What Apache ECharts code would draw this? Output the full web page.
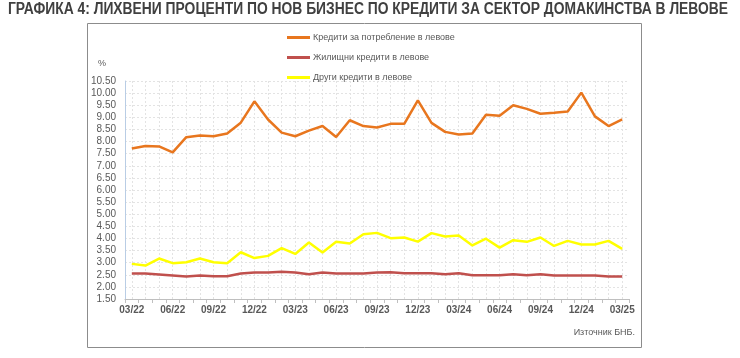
<!DOCTYPE html>
<html><head><meta charset="utf-8">
<script src="https://cdn.jsdelivr.net/npm/echarts@6/dist/echarts.min.js"></script>
<style>html,body{margin:0;padding:0;background:#fff}#c{width:740px;height:358px}</style>
</head><body><div id="c"></div>
<script>
const categories = ['03/22','04/22','05/22','06/22','07/22','08/22','09/22','10/22','11/22','12/22','01/23','02/23','03/23','04/23','05/23','06/23','07/23','08/23','09/23','10/23','11/23','12/23','01/24','02/24','03/24','04/24','05/24','06/24','07/24','08/24','09/24','10/24','11/24','12/24','01/25','02/25','03/25'];
const consumer = [7.71,7.82,7.80,7.55,8.18,8.25,8.22,8.33,8.78,9.66,8.91,8.37,8.22,8.45,8.64,8.19,8.88,8.64,8.58,8.73,8.73,9.70,8.77,8.40,8.29,8.33,9.11,9.07,9.50,9.35,9.15,9.19,9.24,10.02,9.04,8.64,8.92];
const housing = [2.55,2.55,2.51,2.47,2.43,2.47,2.44,2.44,2.55,2.59,2.59,2.62,2.59,2.52,2.59,2.55,2.55,2.55,2.59,2.60,2.56,2.56,2.56,2.52,2.56,2.48,2.48,2.48,2.52,2.48,2.52,2.47,2.47,2.47,2.47,2.43,2.43];
const other = [2.95,2.88,3.17,2.98,3.02,3.17,3.02,2.98,3.43,3.19,3.28,3.60,3.36,3.83,3.42,3.86,3.79,4.17,4.23,4.01,4.04,3.87,4.22,4.08,4.12,3.71,3.99,3.62,3.93,3.86,4.04,3.69,3.90,3.75,3.75,3.90,3.57];
const seriesNames = ['Кредити за потребление в левове','Жилищни кредити в левове','Други кредити в левове'];
const colors = ['#E8761E','#C0504D','#FFFF00'];
const titleText = 'ГРАФИКА 4: ЛИХВЕНИ ПРОЦЕНТИ ПО НОВ БИЗНЕС ПО КРЕДИТИ ЗА СЕКТОР ДОМАКИНСТВА В ЛЕВОВЕ';
const sourceText = 'Източник БНБ.';

const titleFont = 'bold 16px "Liberation Sans", Arial, sans-serif';
const mctx = document.createElement('canvas').getContext('2d');
mctx.font = titleFont;
const titleScale = 720 / mctx.measureText(titleText).width;

const chart = echarts.init(document.getElementById('c'), null, {renderer:'canvas'});
const GL = 125, GR = 111, GT = 81, GB = 59;
const half = (740 - GL - GR) / categories.length / 2;
const font = 'Liberation Sans, Arial, sans-serif';
chart.setOption({
  animation: false,
  color: colors,
  graphic: [
    {type:'text', x: 8, y: 2, scaleX: titleScale, style:{text: titleText, font: titleFont, fill:'#404040'}},
    {type:'rect', shape:{x:87.5, y:23.5, width:554, height:324}, style:{fill:null, stroke:'#8c8c8c', lineWidth:1}, z:-1},
    {type:'text', left: 98, top: 59, style:{text:'%', font:'9px ' + font, fill:'#595959'}},
    {type:'text', right: 105, top: 328, style:{text: sourceText, font:'9px ' + font, fill:'#595959'}}
  ],
  legend: {
    orient:'vertical', left: 282, top: 27, itemGap: 9,
    itemWidth: 23, itemHeight: 3, icon: 'rect',
    textStyle:{fontSize:9, color:'#595959', fontFamily: font, lineHeight: 11, padding:[0,0,0,-2]},
    data: seriesNames
  },
  grid: [
    {left: GL, right: GR, top: GT, bottom: GB},
    {left: GL + half, right: GR + half, top: GT, bottom: GB}
  ],
  xAxis: [
    {type:'category', gridIndex:0, data: categories, boundaryGap:true,
     axisLine:{lineStyle:{color:'#bfbfbf'}},
     axisTick:{show:true, interval:0, length:4, lineStyle:{color:'#bfbfbf'}},
     axisLabel:{interval:2, color:'#595959', fontSize:10, fontWeight:'bold', fontFamily: font, margin:6},
     splitLine:{show:false}},
    {type:'value', gridIndex:1, min:0, max: categories.length - 1, interval:1,
     axisLine:{show:false}, axisTick:{show:false}, axisLabel:{show:false},
     splitLine:{show:true, lineStyle:{color:'#e3e3e3', type:[2,2], width:1}}}
  ],
  yAxis: [
    {type:'value', gridIndex:0, min:1.5, max:10.5, interval:0.5,
     axisLine:{show:true, lineStyle:{color:'#b9cde5'}}, axisTick:{show:false},
     axisLabel:{color:'#595959', fontSize:10, fontFamily: font, margin:9, formatter: v => v.toFixed(2)},
     splitLine:{show:true, lineStyle:{color:'#e3e3e3', type:[2,2], width:1}}},
    {type:'value', gridIndex:1, min:1.5, max:10.5, show:false, splitLine:{show:false}}
  ],
  series: [
    {name: seriesNames[0], type:'line', data: consumer, symbol:'none', lineStyle:{width:2.5, color: colors[0]}, z:5},
    {name: seriesNames[1], type:'line', data: housing, symbol:'none', lineStyle:{width:2.5, color: colors[1]}, z:4},
    {name: seriesNames[2], type:'line', data: other, symbol:'none', lineStyle:{width:2.5, color: colors[2]}, z:3}
  ]
});
</script></body></html>
